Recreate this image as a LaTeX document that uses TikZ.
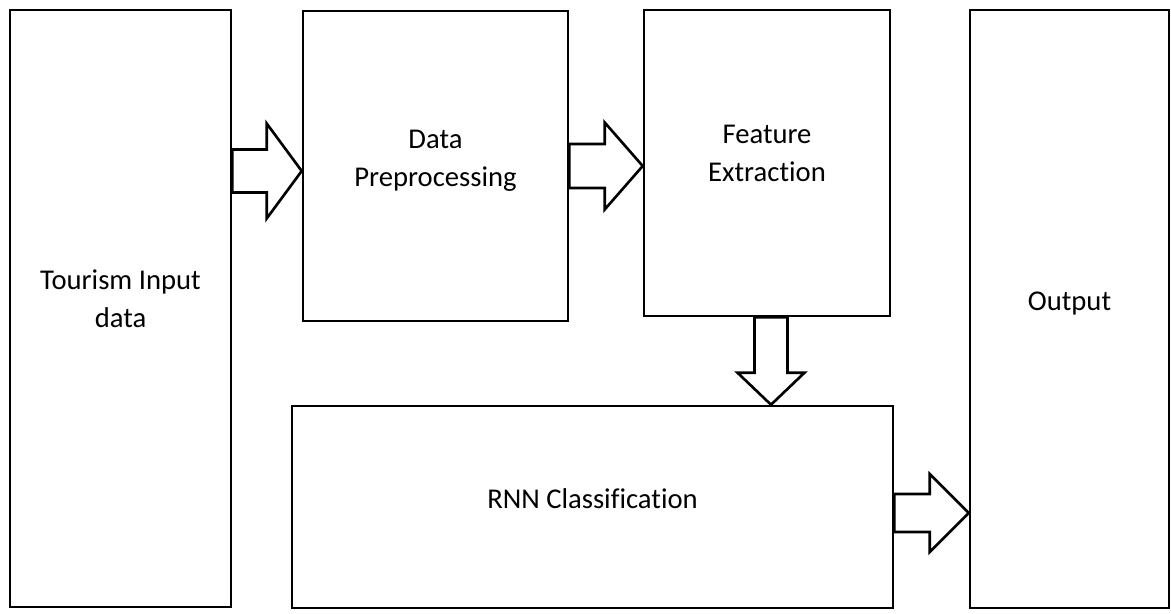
\documentclass[tikz,border=0pt]{standalone}
\usepackage{fontspec}
\setmainfont[Ligatures=NoCommon]{Carlito}
\usetikzlibrary{calc}

% hollow block arrow: start, tip, shaft half width, head half width, head length
\newcommand{\hollowarrow}[5]{%
  \coordinate (hb) at ($(#2)!#5!(#1)$);
  \draw[flow] ($(#1)!#3!90:(#2)$) -- ($(hb)!#3!90:(#2)$) -- ($(hb)!#4!90:(#2)$) -- (#2)
    -- ($(hb)!#4!-90:(#2)$) -- ($(hb)!#3!-90:(#2)$) -- ($(#1)!#3!-90:(#2)$) -- cycle;}

\begin{document}
\begin{tikzpicture}[x=0.02cm ,y=-0.02cm ,
line width=1.5pt ,
block/.style={rectangle ,draw ,align=center ,
font=\fontsize{16.3}{21.6}\selectfont},
lift/.style={text depth=#1},
flow/.style={draw ,fill=white ,line join=miter}
]
    \useasboundingbox (0,0) rectangle (1171,613);
    \node[block ,lift=0.4cm ,minimum width=4.42cm ,minimum height=11.94cm] (in) at (120.5,308.5) {Tourism Input\\data};
    \node[block ,lift=0.31cm ,minimum width=5.30cm ,minimum height=6.20cm] (pre) at (435.5,166) {Data\\Preprocessing};
    \node[block ,lift=0.4cm ,minimum width=4.92cm ,minimum height=6.12cm] (feat) at (767,163) {Feature\\Extraction};
    \node[block ,lift=0.32cm ,minimum width=12.02cm ,minimum height=4.04cm] (rnn) at (592.5,507) {RNN Classification};
    \node[block ,lift=0.31cm ,minimum width=3.98cm ,minimum height=11.96cm] (out) at (1069.5,309) {Output};
    \coordinate (a1s) at (in.east |- 0,171);
    \coordinate (a1e) at (pre.west |- 0,171);
    \coordinate (a2s) at (pre.east |- 0,166);
    \coordinate (a2e) at (feat.west |- 0,166);
    \coordinate (a3s) at (771,0 |- feat.south);
    \coordinate (a3e) at (771,0 |- rnn.north);
    \coordinate (a4s) at (rnn.east |- 0,513);
    \coordinate (a4e) at (out.west |- 0,513);
    \hollowarrow{a1s}{a1e}{0.43cm}{0.95cm}{0.7cm}
    \hollowarrow{a2s}{a2e}{0.44cm}{0.87cm}{0.76cm}
    \hollowarrow{a3s}{a3e}{0.33cm}{0.67cm}{0.64cm}
    \hollowarrow{a4s}{a4e}{0.38cm}{0.78cm}{0.78cm}
\end{tikzpicture}
\end{document}
